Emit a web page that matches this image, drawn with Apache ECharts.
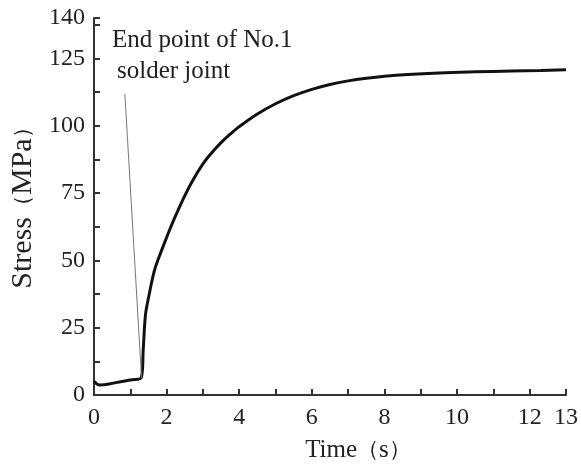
<!DOCTYPE html>
<html>
<head>
<meta charset="utf-8">
<script src="https://cdn.jsdelivr.net/npm/echarts@6/dist/echarts.min.js"></script>
<style>
  html, body { margin: 0; padding: 0; background: #fff; }
  #chart { width: 581px; height: 468px; }
</style>
</head>
<body>
<div id="chart"></div>
<script>
// time (s) and stress (MPa)
var timeS = [0, 0.02, 0.15, 0.6, 1.0, 1.3, 1.36, 1.42, 1.5, 1.66, 1.8, 2.0, 2.2, 2.44, 2.7, 3.0, 3.25, 3.5, 3.75, 4.0, 4.5, 5.0, 5.5, 6.0, 6.5, 7.0, 7.5, 8.0, 8.65, 9.5, 10.5, 11.5, 12.3, 13];
var stress = [5.2, 4.8, 3.7, 4.6, 5.6, 6.4, 18, 30, 36, 46, 51.5, 58.5, 65.1, 72.3, 79.2, 85.8, 90.05, 93.7, 96.85, 99.65, 104.35, 108.15, 111.15, 113.5, 115.3, 116.65, 117.65, 118.4, 119.05, 119.6, 120.0, 120.3, 120.55, 120.8];

// leader line of the note: text end -> end point of joint No.1
var noteFrom = [0.85, 111.8];
var noteTo = [1.31, 6.2];

var xLabelTicks = [0, 2, 4, 6, 8, 10, 12, 13];
var yLabelTicks = [0, 25, 50, 75, 100, 125, 140];

var serif = '"Liberation Serif", "DejaVu Serif", serif';
var lineData = timeS.map(function (t, i) { return [t, stress[i]]; });

var chart = echarts.init(document.getElementById('chart'));
chart.setOption({
    animation: false,
    backgroundColor: '#fff',
    grid: { left: 91, right: 15, top: 18, bottom: 69, containLabel: false },
    xAxis: {
        type: 'value',
        min: 0, max: 13, interval: 1,
        name: 'Time{p|（}s{p|）}',
        nameLocation: 'middle',
        nameGap: 43,
        nameTextStyle: {
            fontFamily: serif, fontSize: 25, color: '#222',
            padding: [0, 0, 0, 56],
            rich: { p: { fontFamily: serif, fontSize: 22, color: '#222', verticalAlign: 'middle' } }
        },
        axisLine: { lineStyle: { color: '#333', width: 2 } },
        axisTick: { inside: true, length: 6, lineStyle: { color: '#333', width: 2 } },
        axisLabel: {
            fontFamily: serif, fontSize: 24, color: '#222', margin: 11,
            formatter: function (v) { return xLabelTicks.indexOf(v) >= 0 ? String(v) : ''; }
        },
        splitLine: { show: false }
    },
    yAxis: {
        type: 'value',
        min: 0, max: 140, interval: 12.5,
        name: 'Stress{p|（}MPa{p|）}',
        nameLocation: 'middle',
        nameGap: 56,
        nameTextStyle: {
            fontFamily: serif, fontSize: 30, color: '#222',
            padding: [0, 0, 0, 8],
            rich: { p: { fontFamily: serif, fontSize: 22, color: '#222', verticalAlign: 'middle' } }
        },
        axisLine: { show: true, lineStyle: { color: '#333', width: 2 } },
        axisTick: { show: true, inside: true, length: 6, lineStyle: { color: '#333', width: 2 } },
        axisLabel: {
            fontFamily: serif, fontSize: 24, color: '#222', margin: 9,
            formatter: function (v) { return yLabelTicks.indexOf(v) >= 0 ? String(v) : ''; }
        },
        splitLine: { show: false }
    },
    graphic: [
        {
            type: 'text', left: 112, top: 28,
            style: { text: 'End point of No.1', font: '25px ' + serif, fill: '#222' }
        },
        {
            type: 'text', left: 117, top: 59,
            style: { text: 'solder joint', font: '25px ' + serif, fill: '#222' }
        }
    ],
    series: [{
        type: 'line',
        data: lineData,
        showSymbol: false,
        smooth: 0.4,
        lineStyle: { color: '#111', width: 3 },
        markLine: {
            silent: true,
            symbol: 'none',
            label: { show: false },
            lineStyle: { color: '#777', width: 1, type: 'solid' },
            data: [[{ coord: noteFrom }, { coord: noteTo }]]
        }
    }]
});
</script>
</body>
</html>
